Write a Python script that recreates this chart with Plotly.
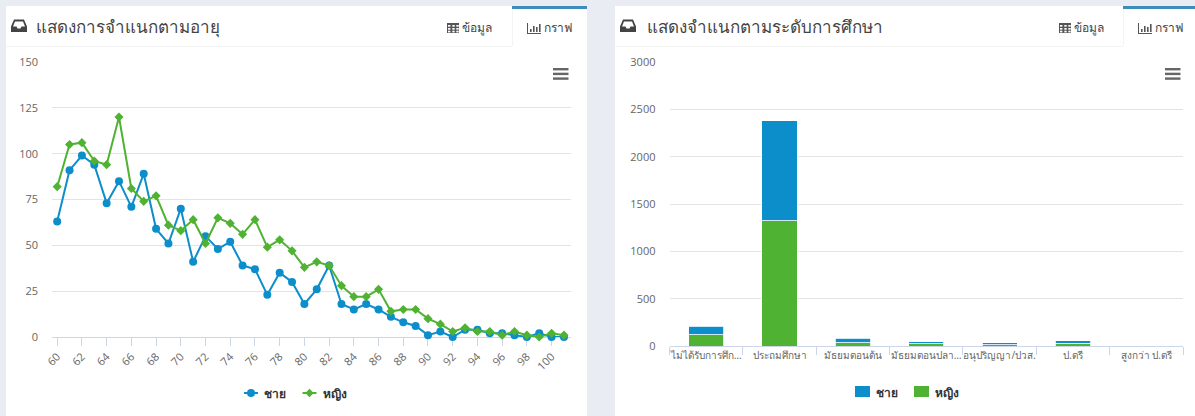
import plotly.graph_objects as go

W, H = 1195, 416
BLUE = "#0c8ecb"
GREEN = "#4fb232"
PAGE = "#e9edf3"

ages = list(range(60, 102))
men = [63, 91, 99, 94, 73, 85, 71, 89, 59, 51, 70, 41, 55, 48, 52, 39, 37, 23, 35, 30, 18,
       26, 39, 18, 15, 18, 15, 11, 8, 6, 1, 3, 0, 4, 4, 2, 2, 1, 0, 2, 0, 0]
women = [82, 105, 106, 96, 94, 120, 81, 74, 77, 61, 58, 64, 51, 65, 62, 56, 64, 49, 53, 47, 38,
         41, 39, 28, 22, 22, 26, 14, 15, 15, 10, 7, 3, 5, 3, 3, 1, 3, 1, 0, 2, 1]

levels = ["ไม่ได้รับการศึก…", "ประถมศึกษา", "มัธยมตอนต้น", "มัธยมตอนปลา…",
          "อนุปริญญา/ปวส.", "ป.ตรี", "สูงกว่า ป.ตรี"]
edu_men = [88, 1055, 49, 18, 17, 30, 0]
edu_women = [120, 1325, 32, 25, 15, 28, 0]

MEN_LABEL = "ชาย"
WOMEN_LABEL = "หญิง"

FONT = "Open Sans, Noto Sans, sans-serif"


def px(x):
    return x / W


def py(y):
    return 1 - y / H


shapes = []
annotations = []


def rect(x0, y0, x1, y1, fill, layer="below"):
    shapes.append(dict(type="rect", xref="paper", yref="paper", x0=px(x0), x1=px(x1),
                       y0=py(y0), y1=py(y1), fillcolor=fill, line_width=0, layer=layer))


def text(x, y, s, size, color, anchor="left", weight=400):
    annotations.append(dict(xref="paper", yref="paper", x=px(x), y=py(y), text=s, showarrow=False,
                            xanchor=anchor, yanchor="middle",
                            font=dict(size=size, color=color, family=FONT, weight=weight)))


def card(left, right, title, title_x, tab_left, table_x, chart_x, burger_x):
    rect(left, 6, right, H, "#ffffff")
    rect(left, 46, right, 47, "#f4f4f4")
    rect(tab_left, 9, tab_left + 1, 46, "#f4f4f4")
    rect(tab_left, 46, right, 47, "#ffffff")
    rect(tab_left, 6, right, 9, "#3c8dbc")
    ix = left + 5
    path = (f"M{px(ix + 3)},{py(19.5)} L{px(ix + 13)},{py(19.5)} L{px(ix + 16)},{py(26.5)} "
            f"L{px(ix + 16)},{py(32)} L{px(ix)},{py(32)} L{px(ix)},{py(26.5)} Z")
    shapes.append(dict(type="path", xref="paper", yref="paper", path=path, fillcolor="#444444",
                       line_width=0, layer="below"))
    inner = (f"M{px(ix + 4)},{py(21.5)} L{px(ix + 12)},{py(21.5)} L{px(ix + 14)},{py(26.5)} "
             f"L{px(ix + 10.5)},{py(26.5)} L{px(ix + 9.5)},{py(28.5)} L{px(ix + 6.5)},{py(28.5)} "
             f"L{px(ix + 5.5)},{py(26.5)} L{px(ix + 2)},{py(26.5)} Z")
    shapes.append(dict(type="path", xref="paper", yref="paper", path=inner, fillcolor="#ffffff",
                       line_width=0, layer="below"))
    text(title_x, 27, title, 17, "#444444")
    rect(table_x, 23, table_x + 12, 33, "#555555")
    for cx in (0, 4.3, 8.3):
        for cy in (2, 5, 7.7):
            rect(table_x + cx + 1, 23 + cy, table_x + cx + 3.4, 23 + cy + 1.7, "#ffffff")
    text(table_x + 13, 28, "ข้อมูล", 12, "#444444")
    rect(chart_x, 23, chart_x + 1, 34, "#555555")
    rect(chart_x, 33, chart_x + 14, 34, "#555555")
    for dx, top in ((3, 29), (6, 26), (9, 27), (12, 24)):
        rect(chart_x + dx, top, chart_x + dx + 1.6, 32, "#555555")
    text(chart_x + 15, 28, "กราฟ", 12, "#444444")
    for y0 in (68, 72.7, 77.4):
        rect(burger_x, y0, burger_x + 15.5, y0 + 2.4, "#666666", layer="above")


def line_key(x0, x1, y, color, symbol):
    shapes.append(dict(type="line", xref="paper", yref="paper", x0=px(x0), x1=px(x1), y0=py(y), y1=py(y),
                       line=dict(color=color, width=2), layer="above"))
    c = (x0 + x1) / 2
    if symbol == "circle":
        shapes.append(dict(type="circle", xref="paper", yref="paper", x0=px(c - 4), x1=px(c + 4),
                           y0=py(y - 4), y1=py(y + 4), fillcolor=color, line_width=0, layer="above"))
    else:
        r = 4.2
        d = (f"M{px(c)},{py(y - r)} L{px(c + r)},{py(y)} L{px(c)},{py(y + r)} L{px(c - r)},{py(y)} Z")
        shapes.append(dict(type="path", xref="paper", yref="paper", path=d, fillcolor=color,
                           line_width=0, layer="above"))


rect(0, 0, W, H, PAGE)
card(6, 587, "แสดงการจำแนกตามอายุ", 34, 512, 447, 527, 553)
card(615, 1195, "แสดงจำแนกตามระดับการศึกษา", 645, 1123, 1059, 1138, 1165)

# legend keys of the line chart
line_key(244, 258, 393, BLUE, "circle")
text(262, 393, MEN_LABEL, 12, "#333333", weight=700)
line_key(302.5, 316.5, 393, GREEN, "diamond")
text(320.5, 393, WOMEN_LABEL, 12, "#333333", weight=700)
# legend keys of the bar chart
rect(855, 386, 870, 397, BLUE, layer="above")
text(874, 392, MEN_LABEL, 12, "#333333", weight=700)
rect(914, 386, 929, 397, GREEN, layer="above")
text(933, 392, WOMEN_LABEL, 12, "#333333", weight=700)

fig = go.Figure()
fig.add_trace(go.Scatter(x=ages, y=men, name=MEN_LABEL, mode="lines+markers", xaxis="x", yaxis="y",
                         line=dict(color=BLUE, width=2), marker=dict(color=BLUE, size=8, symbol="circle"),
                         cliponaxis=False))
fig.add_trace(go.Scatter(x=ages, y=women, name=WOMEN_LABEL, mode="lines+markers", xaxis="x", yaxis="y",
                         line=dict(color=GREEN, width=2), marker=dict(color=GREEN, size=7, symbol="diamond"),
                         cliponaxis=False))
fig.add_trace(go.Bar(x=levels, y=edu_women, name=WOMEN_LABEL, xaxis="x2", yaxis="y2", width=0.48,
                     marker=dict(color=GREEN, line=dict(color="#ffffff", width=0.8))))
fig.add_trace(go.Bar(x=levels, y=edu_men, name=MEN_LABEL, xaxis="x2", yaxis="y2", width=0.48,
                     marker=dict(color=BLUE, line=dict(color="#ffffff", width=0.8))))

grid = "#e3e3e3"
axis_line = "#ccd6eb"
tick_font = dict(size=11, color="#666666", family=FONT)

fig.update_layout(
    width=W, height=H, autosize=False, margin=dict(l=0, r=0, t=0, b=0, autoexpand=False),
    paper_bgcolor="#ffffff", plot_bgcolor="rgba(0,0,0,0)", barmode="stack", showlegend=False,
    font=dict(family=FONT), shapes=shapes, annotations=annotations,
    xaxis=dict(domain=[px(52), px(571)], anchor="y", range=[59.58, 101.57], tick0=60, dtick=2,
               tickangle=-45, showgrid=False, zeroline=False, showline=True, linecolor=axis_line,
               ticks="outside", ticklen=8, tickcolor=axis_line, tickfont=tick_font, automargin=False,
               layer="below traces"),
    yaxis=dict(domain=[py(337), py(62)], anchor="x", range=[0, 150], dtick=25, gridcolor=grid,
               zeroline=False, showline=False, tickfont=tick_font, ticklabelstandoff=13, automargin=False),
    xaxis2=dict(domain=[px(669.5), px(1183)], anchor="y2", type="category", tickson="boundaries",
                showgrid=False, zeroline=False, showline=True, linecolor=axis_line, ticks="outside",
                ticklen=8, tickcolor=axis_line, tickangle=0, automargin=False, layer="below traces",
                tickfont=dict(size=10, color="#666666", family=FONT)),
    yaxis2=dict(domain=[py(346), py(62)], anchor="x2", range=[0, 3000], dtick=500, gridcolor=grid,
                zeroline=False, showline=False, tickfont=tick_font, ticklabelstandoff=13, automargin=False),
)

fig.write_html("out.html", config=dict(displayModeBar=False),
               post_script="document.body.style.margin='0';")
